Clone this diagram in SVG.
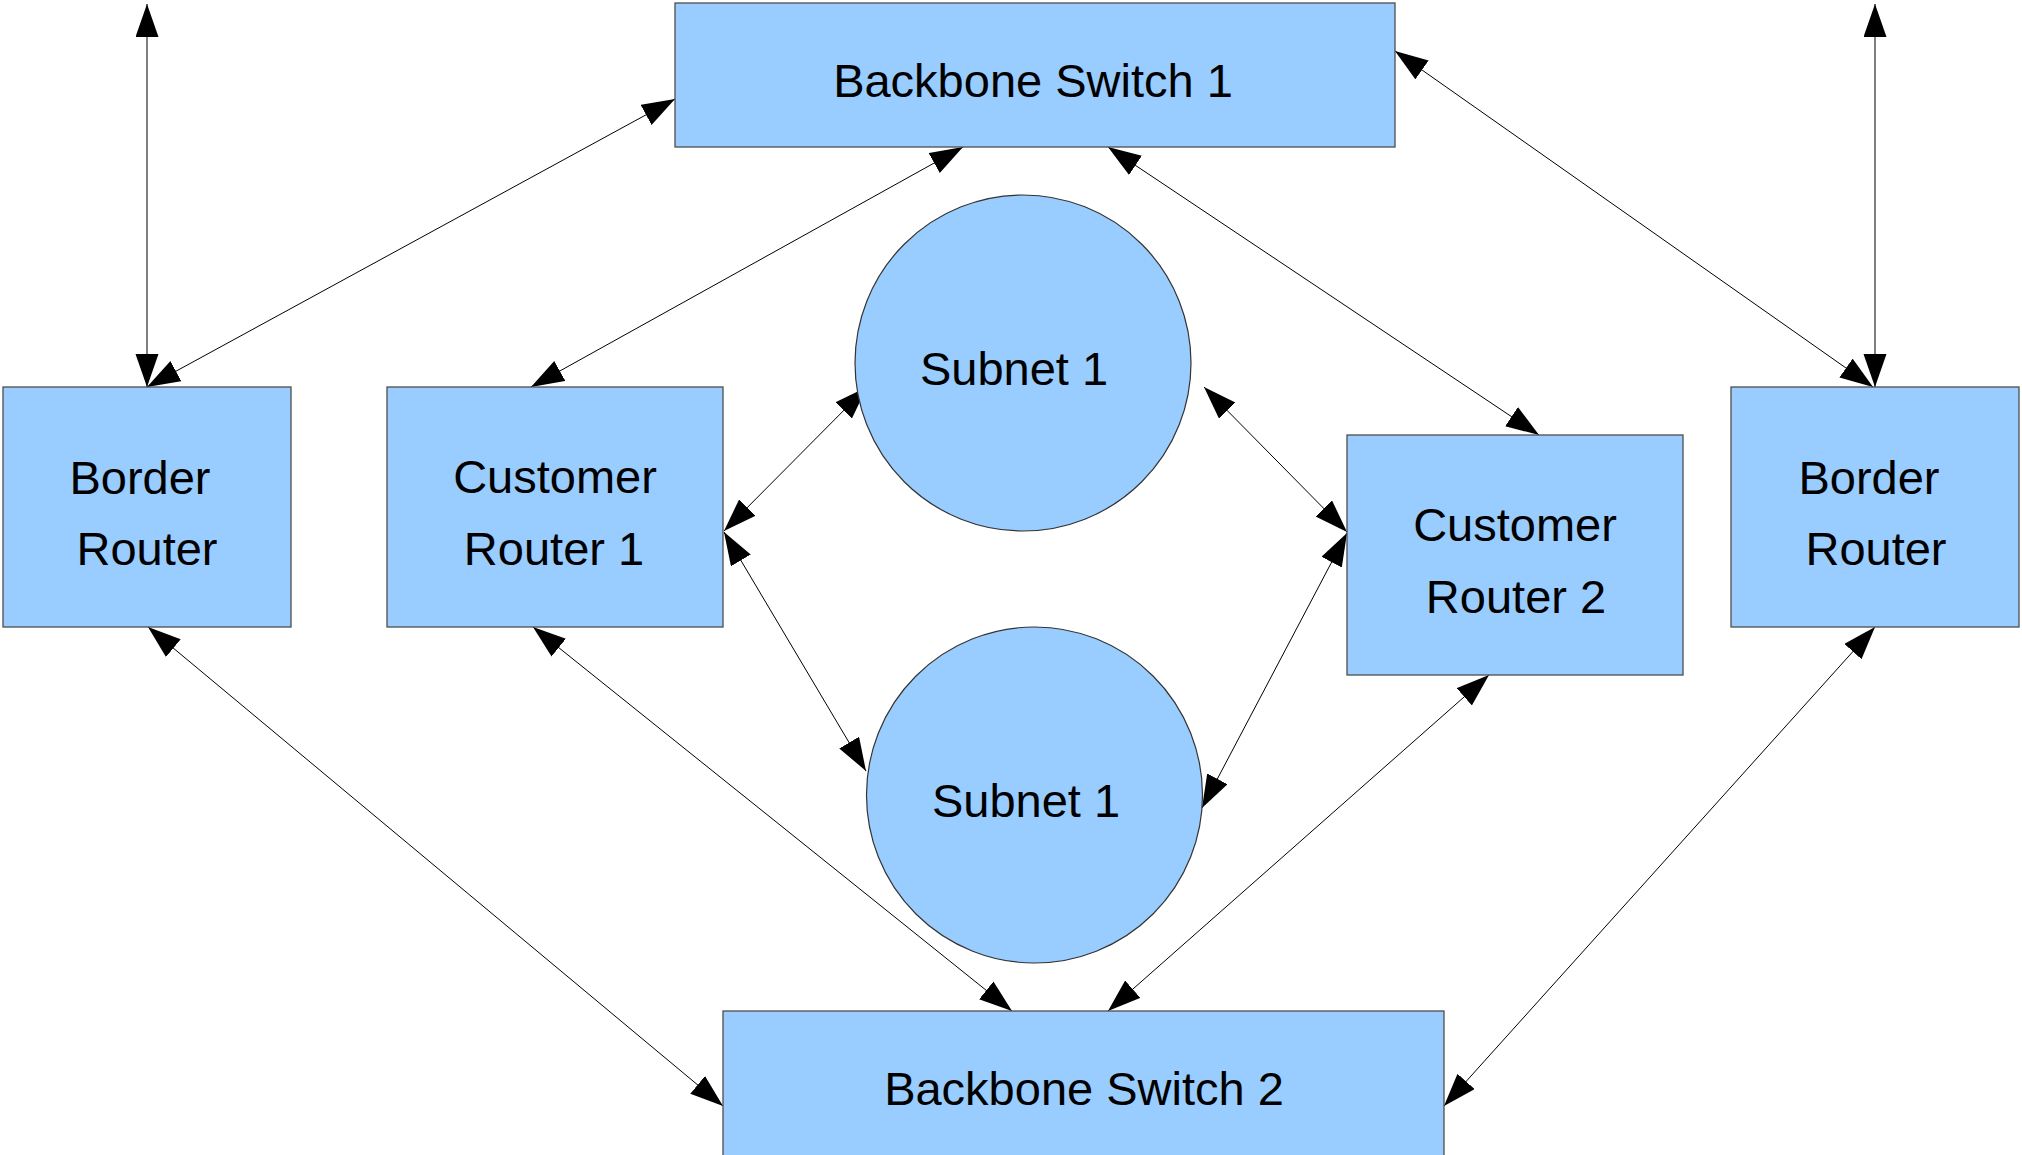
<svg xmlns="http://www.w3.org/2000/svg" width="2022" height="1155" viewBox="0 0 2022 1155">
  <style>
    .box { fill: #99ccff; stroke: #4d4d4d; stroke-width: 1.3; }
    .sub { fill: #99ccff; stroke: #333333; stroke-width: 1.2; }
    .lbl { font-family: "Liberation Sans", Arial, sans-serif; font-size: 47px; fill: #000000; text-anchor: middle; }
    .link { fill: none; stroke: #000000; stroke-width: 1; marker-start: url(#head); marker-end: url(#head); }
  </style>
  <defs>
    <marker id="head" markerUnits="userSpaceOnUse" markerWidth="34" markerHeight="24" refX="33" refY="11.5" orient="auto-start-reverse" viewBox="0 0 34 24">
      <path d="M0,0 L33,11.5 L0,23 z" fill="#000000"/>
    </marker>
  </defs>

  <rect width="2022" height="1155" fill="#ffffff"/>

  <g id="connectors">
    <line class="link" x1="147" y1="387" x2="147" y2="4"/>
    <line class="link" x1="147" y1="387" x2="675" y2="99"/>
    <line class="link" x1="531" y1="387" x2="963" y2="147"/>
    <line class="link" x1="1108" y1="147" x2="1539" y2="435"/>
    <line class="link" x1="1395" y1="51" x2="1873" y2="387"/>
    <line class="link" x1="1875" y1="387" x2="1875" y2="4"/>
    <line class="link" x1="724" y1="531" x2="867" y2="387"/>
    <line class="link" x1="1204" y1="387" x2="1347" y2="532"/>
    <line class="link" x1="724" y1="532" x2="866" y2="771"/>
    <line class="link" x1="1347" y1="533" x2="1202" y2="808"/>
    <line class="link" x1="148" y1="627" x2="723" y2="1106"/>
    <line class="link" x1="533" y1="627" x2="1012" y2="1011"/>
    <line class="link" x1="1489" y1="675" x2="1108" y2="1011"/>
    <line class="link" x1="1875" y1="627" x2="1444" y2="1106"/>
  </g>

  <g id="backbone-switch-1">
    <rect class="box" x="675" y="3" width="720" height="144"/>
    <text class="lbl" x="1033" y="97">Backbone Switch 1</text>
  </g>

  <g id="border-router-left">
    <rect class="box" x="3" y="387" width="288" height="240"/>
    <text class="lbl" x="140" y="494">Border</text>
    <text class="lbl" x="147" y="565">Router</text>
  </g>

  <g id="customer-router-1">
    <rect class="box" x="387" y="387" width="336" height="240"/>
    <text class="lbl" x="555" y="493">Customer</text>
    <text class="lbl" x="554" y="565">Router 1</text>
  </g>

  <g id="subnet-top">
    <circle class="sub" cx="1023" cy="363" r="168"/>
    <text class="lbl" x="1014" y="385">Subnet 1</text>
  </g>

  <g id="customer-router-2">
    <rect class="box" x="1347" y="435" width="336" height="240"/>
    <text class="lbl" x="1515" y="541">Customer</text>
    <text class="lbl" x="1516" y="613">Router 2</text>
  </g>

  <g id="border-router-right">
    <rect class="box" x="1731" y="387" width="288" height="240"/>
    <text class="lbl" x="1869" y="494">Border</text>
    <text class="lbl" x="1876" y="565">Router</text>
  </g>

  <g id="subnet-bottom">
    <circle class="sub" cx="1034.5" cy="795" r="168"/>
    <text class="lbl" x="1026" y="817">Subnet 1</text>
  </g>

  <g id="backbone-switch-2">
    <rect class="box" x="723" y="1011" width="721" height="150"/>
    <text class="lbl" x="1084" y="1105">Backbone Switch 2</text>
  </g>
</svg>
